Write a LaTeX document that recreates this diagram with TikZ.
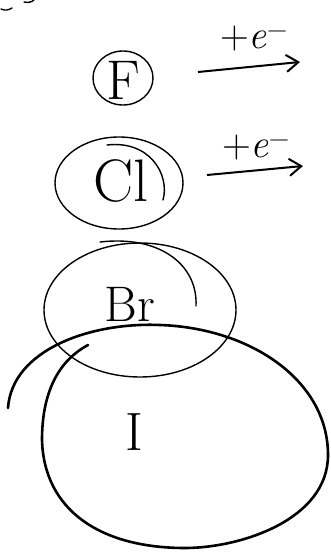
\documentclass[tikz,border=0pt]{standalone}
\usepackage{fontspec}
\usepackage{tikz}
\usetikzlibrary{arrows, arrows.meta}
\tikzset{pen/.style={line width=1.4pt, line cap=round}, thick pen/.style={line width=2.6pt, line cap=round}, elem/.style={font=\fontsize{56}{56}\selectfont}, gain/.style={font=\fontsize{40}{40}\selectfont, anchor=base}, hook/.style={line width=2pt, -{Straight Barb[length=12pt, width=17pt, line width=2pt]}}}
\begin{document}
\begin{tikzpicture}[x=1pt,y=-1pt]
			\useasboundingbox (0,0) rectangle (330,552);
			\draw[pen](1,9) .. controls (5,11) and (9,10) .. (12,8);
			\draw[pen](24,2) .. controls (28,3) and (32,2) .. (34,0);
			\node[elem] (F) at (123,80) {F};
			\draw[pen](123,78) ellipse (30 and 27);
			\node[elem, font=\fontsize{60}{60}\selectfont] (Cl) at (121,181) {Cl};
			\draw[pen](119,183) ellipse (64 and 46);
			\draw[pen](107,145) .. controls (150,140) and (170,175) .. (163,200);
			\node[elem, font=\fontsize{50}{50}\selectfont] (Br) at (130,304) {Br};
			\draw[pen](140,310) ellipse (96 and 67);
			\draw[pen](100,242) .. controls (160,235) and (198,265) .. (196,306);
			\node[elem, font=\fontsize{54}{54}\selectfont] (I) at (134,432) {I};
			\draw[thick pen](8,408) .. controls (12,350) and (90,322) .. (160,325)
				.. controls (250,328) and (328,380) .. (328,455)
				.. controls (328,520) and (240,548) .. (185,548)
				.. controls (100,548) and (44,510) .. (42,440)
				.. controls (42,390) and (60,360) .. (88,345);
			\coordinate (a1) at (198,72);
			\coordinate (b1) at (300,62);
			\coordinate (a2) at (207,175);
			\coordinate (b2) at (303,166);
			\draw[hook](a1) -- (b1);
			\draw[hook](a2) -- (b2);
			\node[gain] (e1) at (254,48) {+\textit{e}\textsuperscript{−}};
			\node[gain] (e2) at (256,157) {+\textit{e}\textsuperscript{−}};
		\end{tikzpicture}
\end{document}
